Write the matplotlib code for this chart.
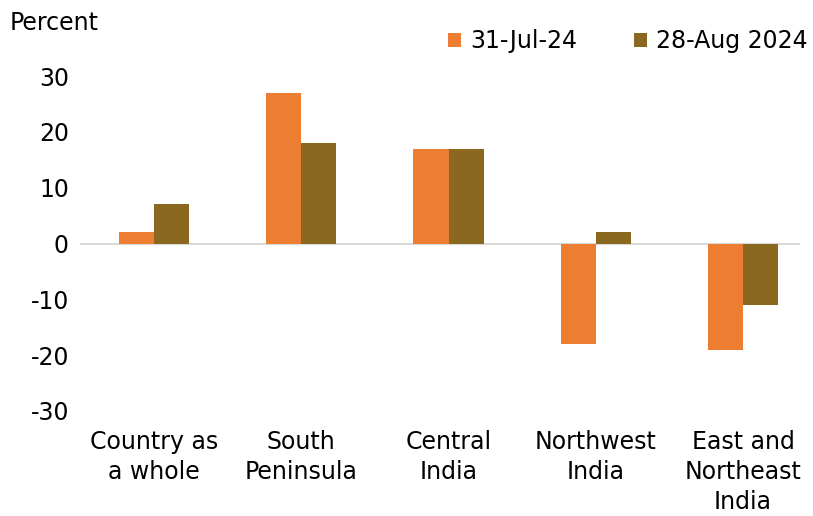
import numpy as np
import matplotlib.pyplot as plt

categories = ["Country as\na whole", "South\nPeninsula", "Central\nIndia", "Northwest\nIndia", "East and\nNortheast\nIndia"]
jul_24 = [2, 27, 17, -18, -19]
aug_24 = [7, 18, 17, 2, -11]
series_names = ["31-Jul-24", "28-Aug 2024"]
y_ticks = [-30, -20, -10, 0, 10, 20, 30]

plt.rcParams['font.family'] = ['DejaVu Sans']
fs = 17

fig = plt.figure(figsize=(8.13, 5.16), dpi=100)
ax = fig.add_axes([80 / 813, 105 / 516, 720 / 813, 335 / 516])

x = np.arange(len(categories))
w = 0.238
ax.bar(x - w / 2, jul_24, w, color='#ED7D31', label=series_names[0])
ax.bar(x + w / 2, aug_24, w, color='#8B6820', label=series_names[1])

ax.axhline(0, color='#D9D9D9', linewidth=1.5, zorder=0)
ax.set_xlim(-0.503, 4.387)
ax.set_ylim(-30, 30)
ax.set_yticks(y_ticks)
ax.set_yticklabels([str(v) for v in y_ticks], fontsize=fs)
ax.set_xticks(x)
ax.set_xticklabels(categories, fontsize=fs, linespacing=1.3, va='top')
ax.tick_params(axis='both', length=0)
ax.tick_params(axis='y', pad=8)
ax.tick_params(axis='x', pad=14)
for s in ax.spines.values():
    s.set_visible(False)

fig.text(10 / 813, 1 - 23 / 516, "Percent", fontsize=fs, va='center', ha='left')
ax.legend(loc='upper right', bbox_to_anchor=(808 / 813, 1 - 29 / 516),
          bbox_transform=fig.transFigure, ncol=2, frameon=False, fontsize=fs,
          handlelength=0.55, handleheight=0.55, handletextpad=0.4, columnspacing=2.4,
          borderaxespad=0, borderpad=0)

fig.savefig("out.png", dpi=100)
